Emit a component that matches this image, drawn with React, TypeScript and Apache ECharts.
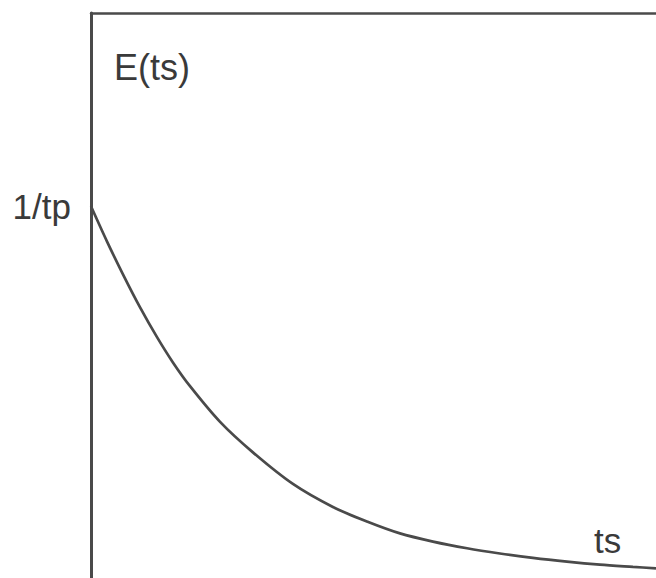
import React, { useEffect, useRef } from "react";
import * as echarts from "echarts";

// ts in units of tp, E in units of 1/tp
const tsValues = [0, 0.108, 0.215, 0.33, 0.444, 0.551, 0.666, 0.868, 1.089, 1.358, 1.627, 1.856, 2.078, 2.3, 2.529, 2.75, 2.972, 3.201, 3.423, 3.645, 3.8];
const eValues = [1.0, 0.905, 0.817, 0.728, 0.648, 0.58, 0.516, 0.42, 0.338, 0.253, 0.191, 0.152, 0.12, 0.098, 0.08, 0.066, 0.054, 0.044, 0.036, 0.03, 0.026];
const yTickValue = 1;
const yTickLabel = "1/tp";
const yAxisTitle = "E(ts)";
const xAxisTitle = "ts";

const INK = "#4a4a4a";
const TEXT = "#3a3a3a";
const FONT = "'Liberation Sans', Arial, Helvetica, sans-serif";

export default function App() {
  const ref = useRef<HTMLDivElement>(null);
  useEffect(() => {
    if (!ref.current) return;
    const chart = echarts.init(ref.current, undefined, { renderer: "svg" });
    chart.setOption({
      animation: false,
      backgroundColor: "#ffffff",
      grid: { left: 91, right: 0, top: 13, bottom: -7, containLabel: false },
      xAxis: [
        {
          type: "value",
          min: 0,
          max: 3.8,
          axisLine: { show: false },
          axisTick: { show: false },
          axisLabel: { show: false },
          splitLine: { show: false },
        },
        {
          type: "value",
          position: "top",
          min: 0,
          max: 3.8,
          axisLine: { show: true, lineStyle: { color: INK, width: 2.5 } },
          axisTick: { show: false },
          axisLabel: { show: false },
          splitLine: { show: false },
        },
      ],
      yAxis: {
        type: "value",
        min: 0,
        max: 1.52,
        interval: 1,
        axisLine: { show: true, lineStyle: { color: INK, width: 3 } },
        axisTick: { show: false },
        splitLine: { show: false },
        axisLabel: {
          show: true,
          margin: 20,
          color: TEXT,
          fontSize: 35,
          fontFamily: FONT,
          formatter: (v: number) => (v === yTickValue ? yTickLabel : ""),
        },
      },
      graphic: [
        {
          type: "text",
          left: 114,
          top: 49,
          style: { text: yAxisTitle, fontSize: 36, fontFamily: FONT, fill: TEXT },
        },
        {
          type: "text",
          left: 594,
          top: 523,
          style: { text: xAxisTitle, fontSize: 35, fontFamily: FONT, fill: TEXT },
        },
      ],
      series: [
        {
          type: "line",
          xAxisIndex: 0,
          data: tsValues.map((t, i) => [t, eValues[i]]),
          smooth: 0.3,
          showSymbol: false,
          symbol: "none",
          lineStyle: { color: INK, width: 2.7 },
          clip: true,
        },
      ],
    });
    return () => chart.dispose();
  }, []);
  return (
    <div
      ref={ref}
      style={{ position: "absolute", left: 0, top: 0, width: 656, height: 578, background: "#fff" }}
    />
  );
}
